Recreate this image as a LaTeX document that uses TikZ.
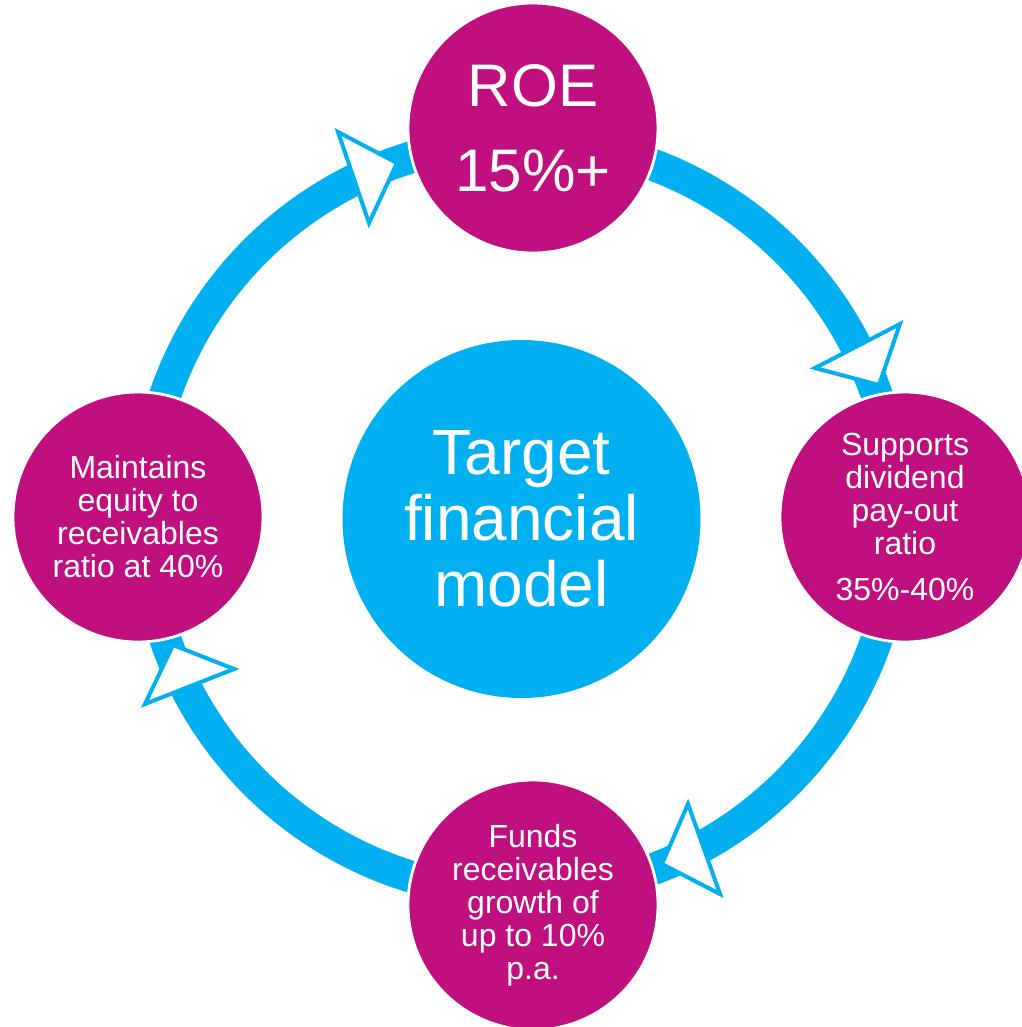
\documentclass[tikz,border=0pt]{standalone}
\usepackage{fontspec}
\setmainfont{Liberation Sans}
\usepackage{tikz}
\usetikzlibrary{positioning}

\definecolor{ringblue}{HTML}{00B0F0}
\definecolor{plum}{HTML}{C0107F}

\begin{document}
\begin{tikzpicture}

% page size of the picture
\useasboundingbox (0,0) rectangle (10.22,-10.27);

% centre of the ring
\coordinate (hub) at (5.21,-5.17);

%Ring behind the circles
\draw[ringblue, line width=0.32cm] (hub) circle (3.76cm);

%Arrow heads drawn by hand using a loop
\foreach \ax/\ay/\bx/\by/\cx/\cy in {3.38/-1.32/3.97/-1.63/3.69/-2.23,
                                     8.15/-3.68/9.00/-3.24/8.79/-3.85,
                                     6.88/-8.04/7.20/-8.94/6.62/-8.64,
                                     1.73/-6.45/2.34/-6.69/1.45/-7.04}
\draw[ringblue, fill=white, line width=0.04cm, line join=miter] (\ax,\ay) -- (\bx,\by) -- (\cx,\cy) -- cycle;

%Circles
\node (roe) [circle, fill=plum, draw=white, line width=0.8pt, minimum size=2.5cm, inner sep=0pt,
  text=white, align=center, font=\fontsize{17.1}{24.2}\selectfont] at (5.33,-1.28) {ROE\\15\%+};
\node (dividend) [circle, fill=plum, draw=white, line width=0.8pt, minimum size=2.5cm, inner sep=0pt,
  text=white, align=center, font=\fontsize{9.1}{9.4}\selectfont] at (9.05,-5.17)
  {Supports\\dividend\\pay-out\\ratio\\[3.7pt]35\%-40\%};
\node (growth) [circle, fill=plum, draw=white, line width=0.8pt, minimum size=2.5cm, inner sep=0pt,
  text=white, align=center, font=\fontsize{9.1}{9.4}\selectfont] at (5.33,-9.05)
  {Funds\\receivables\\growth of\\up to 10\%\\p.a.};
\node (equity) [circle, fill=plum, draw=white, line width=0.8pt, minimum size=2.5cm, inner sep=0pt,
  text=white, align=center, font=\fontsize{9.1}{9.4}\selectfont] at (1.38,-5.17)
  {Maintains\\equity to\\receivables\\ratio at 40\%};

%Name in the middle
\node (target) [circle, fill=ringblue, minimum size=3.58cm, inner sep=0pt,
  text=white, align=center, font=\fontsize{18.2}{18.8}\selectfont] at (5.215,-5.19)
  {Target\\financial\\model};

\end{tikzpicture}
\end{document}
